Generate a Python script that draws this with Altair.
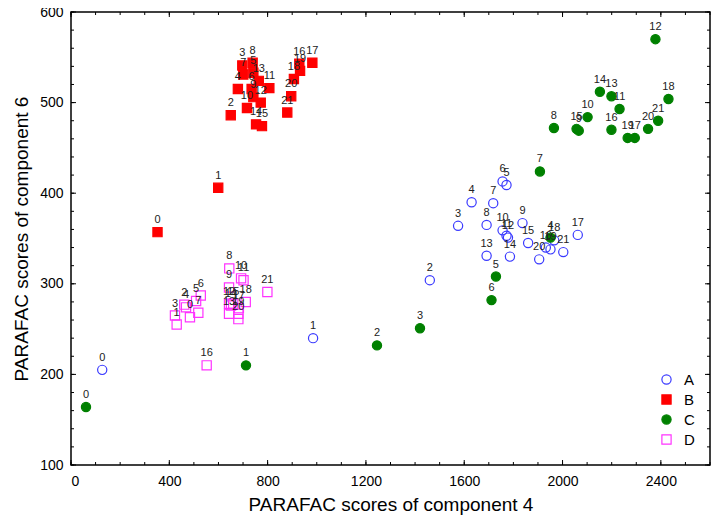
import altair as alt
import pandas as pd

series_names = ["A", "B", "C", "D"]
labels = [str(i) for i in range(22)]

A_x = [127, 985, 1460, 1575, 1630, 1772, 1756, 1718, 1691, 1837, 1756, 1772, 1778, 1691, 1786, 1860, 1932, 2062, 1966, 1951, 1905, 2003]
A_y = [205, 240, 304, 364, 390, 409, 413, 389, 365, 367, 359, 353, 351, 331, 330, 345, 340, 354, 348, 338, 327, 335]

B_x = [352, 599, 650, 697, 679, 742, 735, 701, 739, 742, 716, 807, 772, 764, 753, 777, 929, 982, 907, 932, 896, 880]
B_y = [357, 406, 486, 541, 515, 533, 515, 531, 544, 506, 494, 516, 500, 524, 476, 474, 543, 544, 526, 535, 507, 489]

C_x = [61, 712, 1245, 1420, 1951, 1729, 1711, 1908, 1965, 2066, 2102, 2232, 2378, 2199, 2152, 2057, 2199, 2294, 2431, 2265, 2348, 2389]
C_y = [164, 210, 232, 251, 351, 308, 282, 424, 472, 469, 484, 493, 570, 507, 512, 471, 470, 461, 504, 461, 471, 480]

D_x = [484, 430, 461, 423, 468, 509, 528, 518, 644, 643, 692, 702, 643, 643, 651, 660, 552, 683, 711, 681, 681, 799]
D_y = [263, 255, 277, 265, 274, 281, 287, 268, 317, 296, 306, 304, 278, 267, 276, 278, 210, 273, 280, 267, 261, 291]

x_tick_labels = [0, 400, 800, 1200, 1600, 2000, 2400]
y_tick_labels = [100, 200, 300, 400, 500, 600]
x_minor = list(range(0, 2601, 100))
y_minor = list(range(100, 601, 20))

rows = []
for s, xs, ys in zip(series_names, [A_x, B_x, C_x, D_x], [A_y, B_y, C_y, D_y]):
    for lab, xv, yv in zip(labels, xs, ys):
        rows.append({"series": s, "x": xv, "y": yv, "label": lab})
df = pd.DataFrame(rows)

W, H = 639, 453
xscale = alt.Scale(domain=[0, 2600], nice=False, zero=False)
yscale = alt.Scale(domain=[100, 600], nice=False, zero=False)
x_axis = alt.Axis(values=x_tick_labels, title="PARAFAC scores of component 4", format="d",
                  labelPadding=9, titlePadding=7, grid=False, domain=False, ticks=False,
                  labelFont="Liberation Sans", labelFontSize=14, labelColor="black",
                  titleFont="Liberation Sans", titleFontSize=19, titleFontWeight="normal",
                  titleColor="black")
y_axis = alt.Axis(values=y_tick_labels, title="PARAFAC scores of component 6", format="d",
                  labelPadding=8, titlePadding=8, grid=False, domain=False, ticks=False,
                  labelFont="Liberation Sans", labelFontSize=14, labelColor="black",
                  titleFont="Liberation Sans", titleFontSize=19, titleFontWeight="normal",
                  titleColor="black")

leg = alt.Legend(title=None, orient="none", legendX=588, legendY=360,
                 labelFontSize=15, labelFont="Liberation Sans", labelColor="black",
                 symbolSize=85, symbolStrokeWidth=1.2, rowPadding=4, labelOffset=10)

points = alt.Chart(df).mark_point(size=85, strokeWidth=1.2, opacity=1).encode(
    x=alt.X("x:Q", scale=xscale, axis=x_axis),
    y=alt.Y("y:Q", scale=yscale, axis=y_axis),
    shape=alt.Shape("series:N", scale=alt.Scale(domain=series_names,
                    range=["circle", "square", "circle", "square"]), legend=leg),
    stroke=alt.Stroke("series:N", scale=alt.Scale(domain=series_names,
                      range=["#3a3aff", "#ff0000", "#008000", "#ff33ff"]), legend=leg),
    fill=alt.Fill("series:N", scale=alt.Scale(domain=series_names,
                  range=["transparent", "#ff0000", "#008000", "transparent"]), legend=leg),
)

texts = alt.Chart(df).mark_text(dy=-12, fontSize=11, font="Liberation Sans",
                                color="#222222").encode(
    x=alt.X("x:Q", scale=xscale, axis=x_axis),
    y=alt.Y("y:Q", scale=yscale, axis=y_axis),
    text="label:N",
)

xmaj = pd.DataFrame({"x": list(range(0, 2601, 400))})
xmin = pd.DataFrame({"x": x_minor})
ymaj = pd.DataFrame({"y": y_tick_labels})
ymin = pd.DataFrame({"y": y_minor})

def xticks(d, length):
    b = alt.Chart(d).mark_rule(color="black", strokeWidth=1).encode(
        x=alt.X("x:Q", scale=xscale, axis=x_axis), y=alt.value(H), y2=alt.value(H - length))
    t = alt.Chart(d).mark_rule(color="black", strokeWidth=1).encode(
        x=alt.X("x:Q", scale=xscale, axis=x_axis), y=alt.value(0), y2=alt.value(length))
    return [b, t]

def yticks(d, length):
    l = alt.Chart(d).mark_rule(color="black", strokeWidth=1).encode(
        y=alt.Y("y:Q", scale=yscale, axis=y_axis), x=alt.value(0), x2=alt.value(length))
    r = alt.Chart(d).mark_rule(color="black", strokeWidth=1).encode(
        y=alt.Y("y:Q", scale=yscale, axis=y_axis), x=alt.value(W), x2=alt.value(W - length))
    return [l, r]

layers = [points, texts] + xticks(xmin, 3) + xticks(xmaj, 5) + yticks(ymin, 3) + yticks(ymaj, 5)

chart = alt.layer(*layers).properties(
    width=W, height=H,
    background="white",
    autosize=alt.AutoSizeParams(type="none"),
    padding={"left": 63, "top": 4, "right": 2, "bottom": 52},
).configure_axis(
    grid=False, domain=False, ticks=False,
).configure_view(stroke="black", strokeWidth=1.5)

chart.save("out.html", embed_options={"renderer": "svg", "actions": False})
